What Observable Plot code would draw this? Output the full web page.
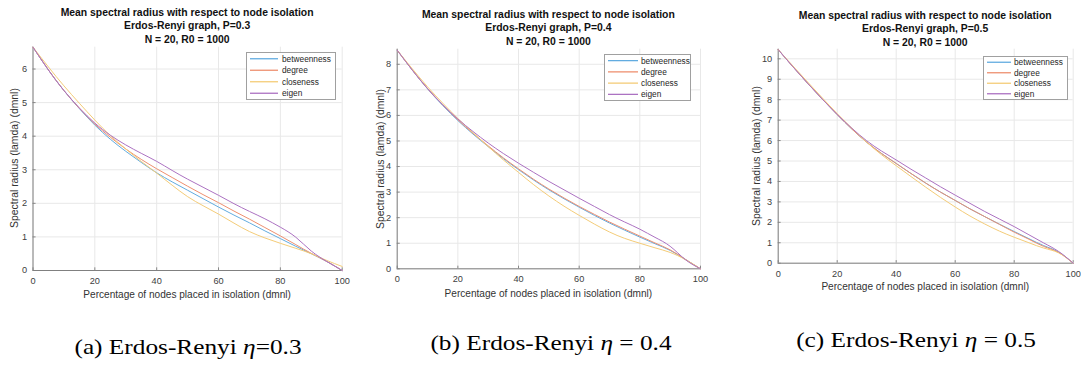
<!DOCTYPE html>
<html>
<head>
<meta charset="utf-8">
<script src="https://cdn.jsdelivr.net/npm/d3@7"></script>
<script src="https://cdn.jsdelivr.net/npm/@observablehq/plot@0.6"></script>
<style>
  body { margin: 0; background: #fff; }
  #wrap { position: relative; width: 1081px; height: 367px; overflow: hidden; background: #fff;
          font-family: "Liberation Sans", Arial, sans-serif; }
  .abs { position: absolute; }
  .title { font-weight: bold; font-size: 10.4px; color: #111; text-align: center; line-height: 13.4px;
           white-space: nowrap; transform: translateX(-50%); }
  .xlab { font-size: 10.1px; color: #333; white-space: nowrap; transform: translate(-50%, -50%); }
  .ylab { font-size: 10.4px; color: #333; white-space: nowrap; transform: translate(-50%, -50%) rotate(-90deg); }
  .cap { font-family: "Liberation Serif", "DejaVu Serif", serif; font-size: 22px; color: #000; white-space: nowrap;
         transform: translate(-50%, -50%) scaleX(1.15); }
  .legend { background: #fff; border: 1px solid #a0a0a0; box-sizing: border-box; }
  .legend svg { display: block; overflow: visible; }
</style>
</head>
<body>
<div id="wrap"></div>
<script>
// ---------- data ----------
const xPct = [0, 5, 10, 15, 20, 25, 30, 35, 40, 45, 50, 55, 60, 65, 70, 75, 80, 85, 90, 95, 100];
const seriesNames = ["betweenness", "degree", "closeness", "eigen"];
const seriesColors = ["#62ace0", "#ee9070", "#f4cc78", "#ac72c2"];
const xTicks = [0, 20, 40, 60, 80, 100];

// P = 0.3
const p03_betweenness = [6.65, 5.97, 5.36, 4.82, 4.33, 3.91, 3.55, 3.22, 2.91, 2.64, 2.39, 2.14, 1.89, 1.65, 1.42, 1.18, 0.95, 0.72, 0.50, 0.27, 0.00];
const p03_degree      = [6.65, 5.97, 5.36, 4.83, 4.36, 3.97, 3.62, 3.31, 3.03, 2.77, 2.51, 2.26, 2.02, 1.77, 1.53, 1.28, 1.03, 0.77, 0.51, 0.27, 0.00];
const p03_closeness   = [6.65, 6.06, 5.50, 4.98, 4.48, 4.02, 3.62, 3.25, 2.90, 2.54, 2.20, 1.93, 1.68, 1.41, 1.16, 0.97, 0.81, 0.66, 0.50, 0.30, 0.12];
const p03_eigen       = [6.65, 5.97, 5.36, 4.84, 4.39, 4.03, 3.74, 3.49, 3.25, 2.98, 2.72, 2.48, 2.24, 1.99, 1.76, 1.54, 1.29, 0.99, 0.58, 0.27, 0.00];
const p03_yTicks = [0, 1, 2, 3, 4, 5, 6];

// P = 0.4
const p04_betweenness = [8.55, 7.77, 7.04, 6.39, 5.80, 5.27, 4.78, 4.31, 3.88, 3.47, 3.09, 2.74, 2.41, 2.09, 1.79, 1.51, 1.24, 0.98, 0.72, 0.37, 0.00];
const p04_degree      = [8.55, 7.77, 7.05, 6.41, 5.83, 5.30, 4.81, 4.34, 3.91, 3.50, 3.12, 2.77, 2.44, 2.13, 1.83, 1.55, 1.28, 1.01, 0.74, 0.37, 0.00];
const p04_closeness   = [8.55, 7.82, 7.12, 6.48, 5.88, 5.32, 4.78, 4.26, 3.77, 3.29, 2.85, 2.45, 2.09, 1.75, 1.44, 1.19, 1.00, 0.82, 0.64, 0.36, 0.00];
const p04_eigen       = [8.55, 7.77, 7.05, 6.42, 5.86, 5.37, 4.92, 4.51, 4.13, 3.77, 3.42, 3.09, 2.76, 2.44, 2.12, 1.83, 1.55, 1.23, 0.88, 0.36, 0.00];
const p04_yTicks = [0, 1, 2, 3, 4, 5, 6, 7, 8];

// P = 0.5
const p05_betweenness = [10.45, 9.61, 8.80, 8.02, 7.27, 6.56, 5.92, 5.37, 4.88, 4.39, 3.92, 3.48, 3.07, 2.66, 2.28, 1.91, 1.55, 1.20, 0.86, 0.55, 0.00];
const p05_degree      = [10.45, 9.61, 8.80, 8.02, 7.27, 6.56, 5.92, 5.37, 4.88, 4.39, 3.92, 3.48, 3.07, 2.66, 2.28, 1.90, 1.52, 1.17, 0.82, 0.53, 0.00];
const p05_closeness   = [10.45, 9.65, 8.86, 8.08, 7.32, 6.60, 5.92, 5.31, 4.77, 4.24, 3.72, 3.22, 2.75, 2.31, 1.92, 1.57, 1.27, 1.00, 0.74, 0.51, 0.00];
const p05_eigen       = [10.45, 9.61, 8.80, 8.02, 7.28, 6.60, 5.99, 5.49, 5.05, 4.60, 4.17, 3.74, 3.33, 2.93, 2.53, 2.16, 1.79, 1.39, 0.99, 0.58, 0.00];
const p05_yTicks = [0, 1, 2, 3, 4, 5, 6, 7, 8, 9, 10];

const titleLine1 = "Mean spectral radius with respect to node isolation";
const titleLine3 = "N = 20, R0 = 1000";
const xLabel = "Percentage of nodes placed in isolation (dmnl)";
const yLabel = "Spectral radius (lamda) (dmnl)";

// ---------- layout per panel ----------
const panels = [
  { p: "0.3", cap: ["(a) Erdos-Renyi ", "η", "=0.3"], series: [p03_betweenness, p03_degree, p03_closeness, p03_eigen], yTicks: p03_yTicks, ymax: 6.65,
    left: 0, width: 360, height: 300, mL: 32.5, mR: 18.3, mT: 46.7, mB: 30,
    titleTop: 6, xlabY: 294, ylabX: 14, capX: 188, capY: 347,
    leg: { x: 246, y: 52, w: 90, h: 48, l1: 3, l2: 31, tx: 35 } },
  { p: "0.4", cap: ["(b) Erdos-Renyi ", "η", " = 0.4"], series: [p04_betweenness, p04_degree, p04_closeness, p04_eigen], yTicks: p04_yTicks, ymax: 8.59,
    left: 360, width: 360, height: 300, mL: 36.7, mR: 20, mT: 48.7, mB: 31.7,
    titleTop: 8, xlabY: 293, ylabX: 380, capX: 551, capY: 343,
    leg: { x: 604, y: 54, w: 87, h: 47, l1: 3, l2: 33, tx: 36 } },
  { p: "0.5", cap: ["(c) Erdos-Renyi ", "η", " = 0.5"], series: [p05_betweenness, p05_degree, p05_closeness, p05_eigen], yTicks: p05_yTicks, ymax: 10.47,
    left: 720, width: 361, height: 300, mL: 57.7, mR: 8.3, mT: 48.7, mB: 37.3,
    titleTop: 9, xlabY: 286, ylabX: 756, capX: 916, capY: 340,
    leg: { x: 983, y: 56, w: 85, h: 44, l1: 3, l2: 27, tx: 30 } }
];

const wrap = document.getElementById("wrap");

function el(tag, cls, style, text) {
  const e = document.createElement(tag);
  if (cls) e.className = cls;
  Object.assign(e.style, style || {});
  if (text != null) e.textContent = text;
  return e;
}

panels.forEach(P => {
  const rows = [];
  seriesNames.forEach((name, si) => {
    P.series[si].forEach((v, i) => rows.push({ x: xPct[i], y: v, s: name }));
  });
  const tick = P.ymax * 0.012;
  const chart = Plot.plot({
    width: P.width, height: P.height,
    marginLeft: P.mL, marginRight: P.mR, marginTop: P.mT, marginBottom: P.mB,
    style: { fontFamily: "Liberation Sans, Arial, sans-serif", fontSize: "9.2px", color: "#404040", background: "transparent", overflow: "visible" },
    x: { domain: [0, 100], ticks: xTicks, tickFormat: d => String(d), tickSize: 0, tickPadding: 7, label: null },
    y: { domain: [0, P.ymax], ticks: P.yTicks, tickFormat: d => String(d), tickSize: 0, tickPadding: 6, label: null },
    color: { domain: seriesNames, range: seriesColors },
    marks: [
      Plot.ruleX(xTicks, { stroke: "#e8e8e8", strokeWidth: 1 }),
      Plot.ruleY(P.yTicks, { stroke: "#e8e8e8", strokeWidth: 1 }),
      Plot.ruleX(xTicks, { y1: 0, y2: tick, stroke: "#888" }),
      Plot.ruleY(P.yTicks, { x1: 0, x2: 1.0, stroke: "#888" }),
      Plot.ruleY([0], { stroke: "#808080", strokeWidth: 1 }),
      Plot.ruleX([0], { stroke: "#808080", strokeWidth: 1 }),
      Plot.line(rows, { x: "x", y: "y", z: "s", stroke: "s", curve: "natural", strokeWidth: 1 })
    ]
  });
  const holder = el("div", "abs", { left: P.left + "px", top: "0px" });
  holder.appendChild(chart);
  wrap.appendChild(holder);

  const cx = P.left + P.mL + (P.width - P.mL - P.mR) / 2;
  const cy = P.mT + (P.height - P.mT - P.mB) / 2;

  // title
  const t = el("div", "abs title", { left: cx + "px", top: P.titleTop + "px" });
  [titleLine1, "Erdos-Renyi graph, P=" + P.p, titleLine3].forEach(line => t.appendChild(el("div", null, {}, line)));
  wrap.appendChild(t);

  // axis labels
  wrap.appendChild(el("div", "abs xlab", { left: cx + "px", top: P.xlabY + "px" }, xLabel));
  wrap.appendChild(el("div", "abs ylab", { left: P.ylabX + "px", top: cy + "px" }, yLabel));

  // legend
  const L = P.leg;
  const lg = el("div", "abs legend", { left: L.x + "px", top: L.y + "px", width: L.w + "px", height: L.h + "px" });
  const ns = "http://www.w3.org/2000/svg";
  const svg = document.createElementNS(ns, "svg");
  svg.setAttribute("width", L.w - 2); svg.setAttribute("height", L.h - 2);
  const step = (L.h - 2) / seriesNames.length;
  seriesNames.forEach((name, i) => {
    const yy = step * (i + 0.5);
    const ln = document.createElementNS(ns, "line");
    ln.setAttribute("x1", L.l1); ln.setAttribute("x2", L.l2);
    ln.setAttribute("y1", yy); ln.setAttribute("y2", yy);
    ln.setAttribute("stroke", seriesColors[i]); ln.setAttribute("stroke-width", 1.3);
    svg.appendChild(ln);
    const tx = document.createElementNS(ns, "text");
    tx.setAttribute("x", L.tx); tx.setAttribute("y", yy);
    tx.setAttribute("dy", "0.35em");
    tx.setAttribute("font-size", "8.3px");
    tx.setAttribute("fill", "#262626");
    tx.setAttribute("font-family", "Liberation Sans, Arial, sans-serif");
    tx.textContent = name;
    svg.appendChild(tx);
  });
  lg.appendChild(svg);
  wrap.appendChild(lg);

  // caption
  const c = el("div", "abs cap", { left: P.capX + "px", top: P.capY + "px" });
  c.appendChild(document.createTextNode(P.cap[0]));
  c.appendChild(el("i", null, {}, P.cap[1]));
  c.appendChild(document.createTextNode(P.cap[2]));
  wrap.appendChild(c);
});
</script>
</body>
</html>
